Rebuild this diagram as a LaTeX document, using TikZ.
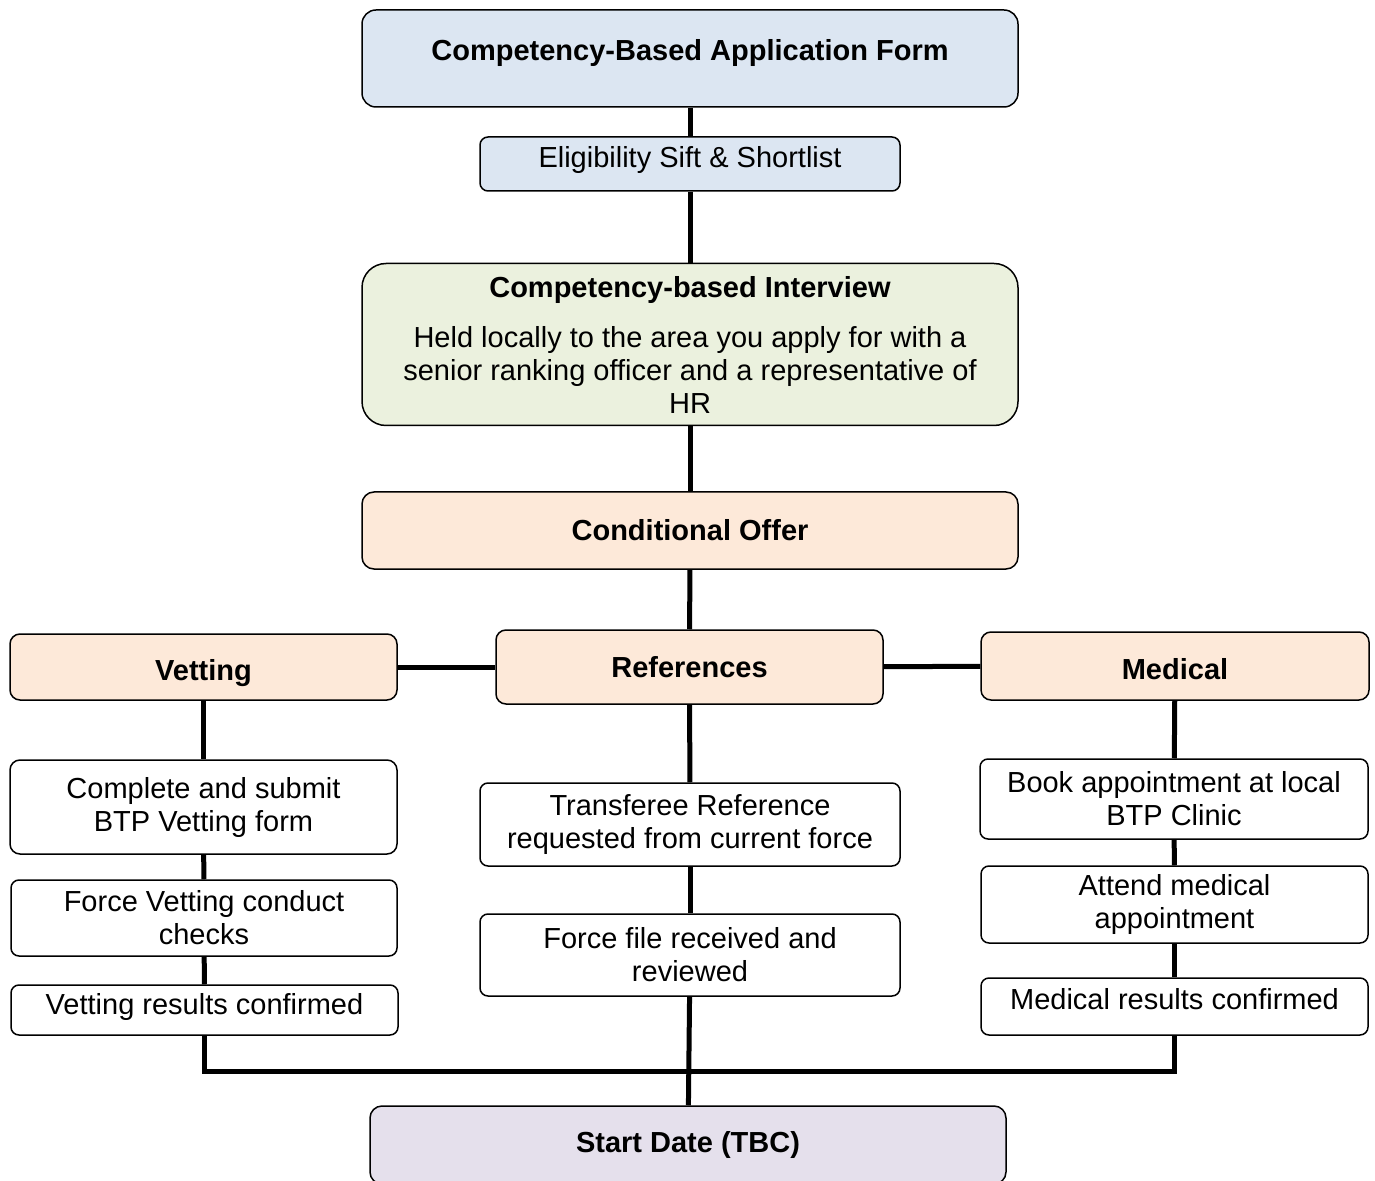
\documentclass[tikz,border=0pt]{standalone}
\usepackage{fontspec}
\setmainfont{Liberation Sans}
\usetikzlibrary{positioning}
\definecolor{siftblue}{RGB}{220,230,242}
\definecolor{talkgreen}{RGB}{235,241,222}
\definecolor{offerpeach}{RGB}{253,233,217}
\definecolor{startlilac}{RGB}{229,224,236}

\begin{document}
\begin{tikzpicture}[x = 0.5pt, y = -0.5pt,
  box/.style = {draw, line width = 0.75pt, rounded corners = 4pt, align = center,
                inner sep = 2pt, font = \fontsize{14.5}{16.5}\selectfont},
  boxsize/.style 2 args = {minimum width = #1*0.5pt, minimum height = #2*0.5pt},
  link/.style = {line width = 2.5pt}]
%\draw [help lines, step = 50] (0, 0) grid (1375, 1181);
\useasboundingbox (0, 0) rectangle (1375, 1181);

% main column
\node [box, boxsize = {656}{97}, fill = siftblue, rounded corners = 7pt, text depth = 8.8pt]
  (form) at (690, 58.5) {\textbf{Competency-Based Application Form}};
\node [box, boxsize = {420}{54}, fill = siftblue, text depth = 7.3pt]
  (sift) at (690, 164) {Eligibility Sift \& Shortlist};
\node [box, boxsize = {656}{162}, fill = talkgreen, rounded corners = 12pt]
  (interview) at (690, 344.5) {\textbf{Competency-based Interview}\\[8.5pt]
  Held locally to the area you apply for with a\\
  senior ranking officer and a representative of\\ HR};
\node [box, boxsize = {656}{77}, fill = offerpeach, rounded corners = 6pt]
  (offer) at (690, 530.5) {\textbf{Conditional Offer}};

% three checks
\node [box, boxsize = {387}{66}, fill = offerpeach, rounded corners = 5pt, text height = 16.5pt]
  (vetting) at (203.5, 667) {\textbf{Vetting}};
\node [box, boxsize = {387}{74}, fill = offerpeach, rounded corners = 5pt]
  (refs) at (689.5, 667) {\textbf{References}};
\node [box, boxsize = {388}{68}, fill = offerpeach, rounded corners = 5pt, text height = 13.5pt]
  (medical) at (1175, 666) {\textbf{Medical}};

\node [box, boxsize = {387}{94}, rounded corners = 5pt]
  (vet1) at (203.5, 807) {Complete and submit\\BTP Vetting form};
\node [box, boxsize = {386}{76}]
  (vet2) at (204, 918) {Force Vetting conduct\\checks};
\node [box, boxsize = {387}{50}, text depth = 6.3pt]
  (vet3) at (204.5, 1010) {Vetting results confirmed};

\node [box, boxsize = {420}{83}]
  (ref1) at (690, 824.5) {Transferee Reference\\requested from current force};
\node [box, boxsize = {420}{82}]
  (ref2) at (690, 955) {Force file received and\\reviewed};

\node [box, boxsize = {388}{80}]
  (med1) at (1174, 799) {Book appointment at local\\BTP Clinic};
\node [box, boxsize = {387}{77}]
  (med2) at (1174.5, 904.5) {Attend medical\\appointment};
\node [box, boxsize = {387}{57}, text depth = 7.8pt]
  (med3) at (1174.5, 1006.5) {Medical results confirmed};

\node [box, boxsize = {636}{78}, fill = startlilac, rounded corners = 6pt]
  (start) at (688, 1145) {\textbf{Start Date (TBC)}};

% connectors
\draw [link] (form) -- (sift);
\draw [link] (sift) -- (interview);
\draw [link] (interview) -- (offer);
\draw [link] (offer) -- (refs);
\draw [link] (vetting) -- (refs);
\draw [link] (refs) -- (medical);
\draw [link] (vetting) -- (vet1);
\draw [link] (vet1) -- (vet2);
\draw [link] (vet2) -- (vet3);
\draw [link] (refs) -- (ref1);
\draw [link] (ref1) -- (ref2);
\draw [link] (ref2) -- (start);
\draw [link] (medical) -- (med1);
\draw [link] (med1) -- (med2);
\draw [link] (med2) -- (med3);
\draw [link] (vet3.south) -- ++(0, 36) -| (med3.south);
\end{tikzpicture}
\end{document}
